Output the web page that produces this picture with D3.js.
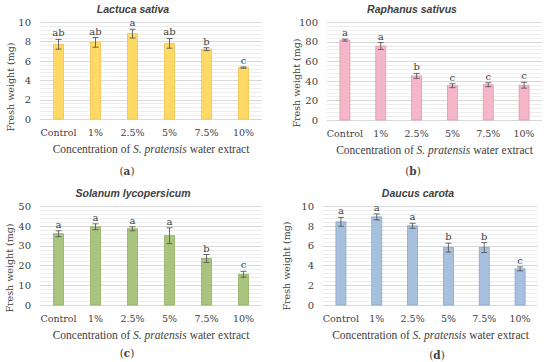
<!DOCTYPE html>
<html>
<head>
<meta charset="utf-8">
<script src="https://cdn.jsdelivr.net/npm/d3@7"></script>
<style>
	body { margin: 0; background: #fff; }
	svg text { font-family: "DejaVu Serif", serif; fill: #404040; }
</style>
</head>
<body>
<div id="chart"></div>
<script>
// concentrations of the water extract
var categories = ["Control", "1%", "2.5%", "5%", "7.5%", "10%"];

// (a) Lactuca sativa
var lactucaMeans = [7.7, 7.9, 8.8, 7.8, 7.2, 5.3];
var lactucaErrors = [0.5, 0.5, 0.45, 0.5, 0.15, 0.07];
var lactucaLetters = ["ab", "ab", "a", "ab", "b", "c"];

// (b) Raphanus sativus
var raphanusMeans = [81.5, 75.5, 45, 35, 36, 35.5];
var raphanusErrors = [1, 3.5, 2.5, 2, 2, 3];
var raphanusLetters = ["a", "a", "b", "c", "c", "c"];

// (c) Solanum lycopersicum
var solanumMeans = [36, 39.5, 38.5, 35, 23.5, 15.5];
var solanumErrors = [1.5, 1.5, 1, 4, 2, 1.5];
var solanumLetters = ["a", "a", "a", "a", "b", "c"];

// (d) Daucus carota
var daucusMeans = [8.4, 8.9, 8.0, 5.8, 5.8, 3.65];
var daucusErrors = [0.45, 0.3, 0.25, 0.45, 0.5, 0.2];
var daucusLetters = ["a", "a", "a", "b", "b", "c"];

// y axis ticks
var ticksA = [0, 2, 4, 6, 8, 10];
var ticksB = [0, 20, 40, 60, 80, 100];
var ticksC = [0, 10, 20, 30, 40, 50];
var ticksD = [0, 2, 4, 6, 8, 10];

var panels = [
	{title: "Lactuca sativa", label: "(a)", means: lactucaMeans, errors: lactucaErrors, letters: lactucaLetters, ticks: ticksA,
	 left: 40, right: 262, top: 22, bottom: 119, titleX: 133, labelX: 127, labelY: 175, yTitleX: 11, yTitleY: 87,
	 fill: "#FFD966", stroke: "#F2C14E"},
	{title: "Raphanus sativus", label: "(b)", means: raphanusMeans, errors: raphanusErrors, letters: raphanusLetters, ticks: ticksB,
	 left: 327, right: 542, top: 22, bottom: 120, titleX: 412, labelX: 413, labelY: 175, yTitleX: 297, yTitleY: 83,
	 fill: "#F4B6C8", stroke: "#E29AAE"},
	{title: "Solanum lycopersicum", label: "(c)", means: solanumMeans, errors: solanumErrors, letters: solanumLetters, ticks: ticksC,
	 left: 40, right: 262, top: 206, bottom: 305, titleX: 133, labelX: 127, labelY: 357, yTitleX: 10, yTitleY: 268,
	 fill: "#A9C47F", stroke: "#8FB060"},
	{title: "Daucus carota", label: "(d)", means: daucusMeans, errors: daucusErrors, letters: daucusLetters, ticks: ticksD,
	 left: 323, right: 538, top: 206, bottom: 305, titleX: 418, labelX: 437, labelY: 359, yTitleX: 287, yTitleY: 266,
	 fill: "#A7C0DE", stroke: "#86A6CE"}
];

var svg = d3.select("#chart").append("svg")
	.attr("width", 550)
	.attr("height", 362);

function drawPanel(p)
{
	var g = svg.append("g");
	var yMax = p.ticks[p.ticks.length - 1];
	var step = p.ticks[1] - p.ticks[0];

	var x = d3.scaleBand()
		.domain(categories)
		.range([p.left, p.right]);

	var y = d3.scaleLinear()
		.domain([0, yMax])
		.range([p.bottom, p.top]);

	// minor gridlines (excel default: major / 5)
	var minor = d3.range(0, yMax + 1e-9, step / 5);
	g.selectAll(".minor").data(minor).enter().append("line")
		.attr("x1", p.left).attr("x2", p.right)
		.attr("y1", function(d) { return Math.round(y(d)) + 0.5; })
		.attr("y2", function(d) { return Math.round(y(d)) + 0.5; })
		.attr("stroke", "#EDEDED");

	// major gridlines
	g.selectAll(".major").data(p.ticks).enter().append("line")
		.attr("x1", p.left).attr("x2", p.right)
		.attr("y1", function(d) { return Math.round(y(d)) + 0.5; })
		.attr("y2", function(d) { return Math.round(y(d)) + 0.5; })
		.attr("stroke", "#D9D9D9");

	// y axis labels
	var yAxis = d3.axisLeft(y).tickValues(p.ticks).tickSize(0).tickPadding(9);
	var ya = g.append("g").attr("transform", "translate(" + p.left + ",0)").call(yAxis);
	ya.select(".domain").remove();
	ya.selectAll("text").attr("font-size", 10).attr("fill", "#3a3a3a");

	// x axis labels
	var xAxis = d3.axisBottom(x).tickSize(0).tickPadding(10);
	var xa = g.append("g").attr("transform", "translate(0," + p.bottom + ")").call(xAxis);
	xa.select(".domain").remove();
	xa.selectAll("text").attr("font-size", 9.5).attr("fill", "#3a3a3a");

	var barW = 10;
	var cx = function(i) { return x(categories[i]) + x.bandwidth() / 2; };

	// bars
	g.selectAll(".bar").data(p.means).enter().append("rect")
		.attr("x", function(d, i) { return cx(i) - barW / 2; })
		.attr("y", function(d) { return y(d); })
		.attr("width", barW)
		.attr("height", function(d) { return p.bottom - y(d); })
		.attr("fill", p.fill)
		.attr("stroke", p.stroke)
		.attr("stroke-width", 0.8);

	// error bars
	p.means.forEach(function(m, i) {
		var e = p.errors[i];
		var c = cx(i);
		var path = "M" + c + "," + y(m + e) + "V" + y(m - e) +
			"M" + (c - 3) + "," + y(m + e) + "H" + (c + 3) +
			"M" + (c - 3) + "," + y(m - e) + "H" + (c + 3);
		g.append("path").attr("d", path)
			.attr("stroke", "#595959").attr("stroke-width", 0.9).attr("fill", "none");

		g.append("text")
			.attr("x", c)
			.attr("y", y(m + e) - 3)
			.attr("text-anchor", "middle")
			.attr("font-size", 10)
			.attr("fill", "#262626")
			.text(p.letters[i]);
	});

	// title
	g.append("text")
		.attr("x", p.titleX)
		.attr("y", p.top - 9)
		.attr("text-anchor", "middle")
		.style("font-family", "'Liberation Sans', sans-serif")
		.attr("font-size", 10.5)
		.attr("font-weight", "bold")
		.attr("font-style", "italic")
		.attr("fill", "#262626")
		.text(p.title);

	// y axis title
	g.append("text")
		.attr("transform", "translate(" + p.yTitleX + "," + p.yTitleY + ") rotate(-90)")
		.attr("text-anchor", "middle")
		.attr("dy", "0.35em")
		.attr("font-size", 9.5)
		.attr("fill", "#3a3a3a")
		.text("Fresh weight (mg)");

	// x axis title (narrower serif so the long line keeps its width)
	var xt = g.append("text")
		.attr("x", (p.left + p.right) / 2)
		.attr("y", p.bottom + 34)
		.attr("text-anchor", "middle")
		.style("font-family", "'Liberation Serif', serif")
		.attr("font-size", 11.5)
		.attr("fill", "#3a3a3a");
	xt.append("tspan").text("Concentration of ");
	xt.append("tspan").attr("font-style", "italic").text("S. pratensis");
	xt.append("tspan").text(" water extract");

	// panel label
	var lb = g.append("text")
		.attr("x", p.labelX)
		.attr("y", p.labelY)
		.attr("text-anchor", "middle")
		.attr("font-size", 10.5)
		.attr("fill", "#000");
	lb.append("tspan").text("(");
	lb.append("tspan").attr("font-weight", "bold").text(p.label.charAt(1));
	lb.append("tspan").text(")");
}

panels.forEach(drawPanel);
</script>
</body>
</html>
